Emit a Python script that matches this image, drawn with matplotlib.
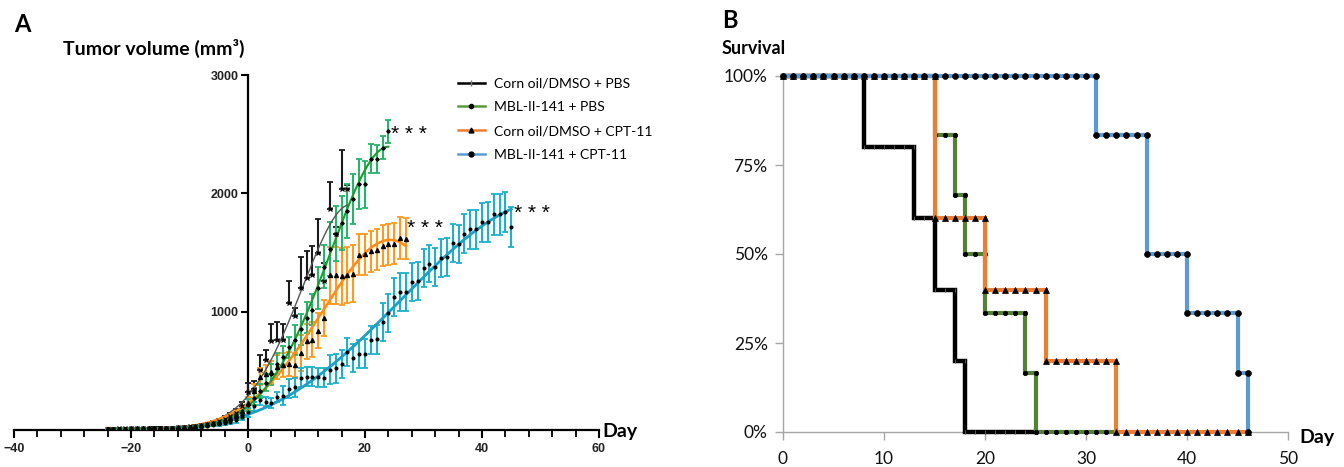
import numpy as np
import matplotlib
matplotlib.use('Agg')
import matplotlib.pyplot as plt
from matplotlib.lines import Line2D
from matplotlib.ticker import MultipleLocator

# ---------------- Panel A data (tumor volume, mm^3) ----------------
ctrl_pbs_days = list(range(-24, 18))
ctrl_pbs_mean = [12, 12, 13, 13, 14, 14, 15, 16, 17, 18, 19, 21, 23, 26, 30, 35, 42, 50,
                 60, 75, 95, 120, 145, 200,
                 320, 350, 510, 593, 748, 763, 763, 1074, 960, 1200, 1285, 1313, 1497,
                 1257, 1864, 1660, 2034, 2040]
ctrl_pbs_err = [4, 4, 4, 4, 4, 4, 5, 5, 5, 5, 5, 6, 6, 7, 8, 9, 10, 12,
                14, 16, 20, 25, 30, 40,
                80, 60, 128, 85, 150, 147, 133, 184, 70, 263, 226, 240, 282,
                155, 232, 56, 333, 30]

mbl_pbs_days = list(range(-24, 25))
mbl_pbs_mean = [10, 10, 11, 11, 12, 12, 13, 13, 14, 15, 16, 17, 19, 21, 24, 28, 33, 40,
                48, 58, 70, 85, 105, 130,
                210, 270, 330, 400, 470, 560, 620, 700, 760, 850, 950, 1017, 1200,
                1380, 1530, 1660, 1750, 1850, 1950, 2076, 2076, 2294, 2288, 2387, 2523]
mbl_pbs_err = [3, 3, 3, 3, 3, 3, 4, 4, 4, 4, 5, 5, 5, 6, 6, 7, 8, 9,
               10, 12, 14, 18, 22, 28,
               50, 60, 60, 70, 90, 90, 90, 90, 130, 130, 130, 130, 180,
               180, 230, 230, 230, 230, 210, 210, 200, 120, 120, 100, 100]

ctrl_cpt_days = list(range(-24, 28))
ctrl_cpt_mean = [11, 11, 12, 12, 13, 13, 14, 15, 16, 17, 18, 20, 22, 25, 28, 33, 40, 48,
                 58, 70, 85, 105, 130, 160,
                 230, 330, 452, 470, 490, 530, 551, 555, 551, 650, 748, 763, 839,
                 946, 1308, 1308, 1299, 1310, 1322, 1483, 1485, 1510, 1525, 1559, 1570,
                 1576, 1624, 1616]
ctrl_cpt_err = [3, 3, 3, 3, 3, 3, 4, 4, 4, 4, 5, 5, 5, 6, 6, 7, 8, 9,
                10, 12, 14, 18, 22, 28,
                50, 60, 70, 80, 90, 100, 100, 100, 100, 150, 150, 150, 150,
                150, 240, 240, 240, 240, 240, 175, 175, 175, 175, 175, 175,
                175, 175, 175]

mbl_cpt_days = list(range(-24, 46))
mbl_cpt_mean = [10, 10, 10, 11, 11, 12, 12, 13, 13, 14, 15, 16, 17, 19, 21, 24, 28, 33,
                40, 48, 58, 70, 85, 110,
                150, 200, 250, 240, 230, 280, 290, 350, 360, 440, 450, 450, 445,
                440, 510, 520, 560, 660, 610, 640, 645, 760, 765, 910, 990, 1125,
                1165, 1165, 1250, 1257, 1370, 1407, 1380, 1455, 1460, 1582, 1573, 1658,
                1695, 1695, 1757, 1757, 1822, 1822, 1845, 1714]
mbl_cpt_err = [3, 3, 3, 3, 3, 3, 4, 4, 4, 4, 5, 5, 5, 6, 6, 7, 8, 9,
               10, 12, 14, 18, 22, 28,
               40, 40, 40, 40, 40, 40, 80, 80, 80, 80, 80, 80, 80,
               80, 120, 120, 120, 120, 120, 120, 120, 120, 120, 160, 160, 160,
               160, 160, 160, 160, 160, 160, 160, 160, 160, 160, 160, 165,
               165, 165, 165, 170, 170, 170, 170, 170]

group_labels = ["Corn oil/DMSO + PBS", "MBL-II-141 + PBS",
                "Corn oil/DMSO + CPT-11", "MBL-II-141 + CPT-11"]
sig_text = "* * *"

# ---------------- Panel B data (survival, %) ----------------
surv_ctrl_pbs_events = [8, 13, 15, 17, 18]
surv_ctrl_pbs_levels = [80, 60, 40, 20, 0]
surv_ctrl_pbs_end = 25
surv_mbl_pbs_events = [15, 17, 18, 20, 24, 25]
surv_mbl_pbs_levels = [83.33, 66.67, 50, 33.33, 16.67, 0]
surv_mbl_pbs_end = 33
surv_ctrl_cpt_events = [15, 20, 26, 33]
surv_ctrl_cpt_levels = [60, 40, 20, 0]
surv_ctrl_cpt_end = 46
surv_mbl_cpt_events = [31, 36, 40, 45, 46]
surv_mbl_cpt_levels = [83.33, 50, 33.33, 16.67, 0]
surv_mbl_cpt_end = 46
surv_yticks = [0, 25, 50, 75, 100]
surv_ylabels = ["0%", "25%", "50%", "75%", "100%"]
surv_xticks = [0, 10, 20, 30, 40, 50]

# ---------------- Figure ----------------
W, H = 1344, 467
fig = plt.figure(figsize=(W / 100, H / 100), dpi=100)
fig.patch.set_facecolor('white')

TXT = ['Lato', 'DejaVu Sans']
NUM = ['Liberation Sans', 'DejaVu Sans']

def fx(px):
    return px / W

def fy(py):
    return 1 - py / H

# ---- Panel A ----
ax = fig.add_axes([fx(14), fy(430), fx(599 - 14), (430 - 75) / H])
ax.set_xlim(-40, 60)
ax.set_ylim(0, 3000)
for s in ['top', 'right']:
    ax.spines[s].set_visible(False)
ax.spines['left'].set_position(('data', 0))
ax.spines['left'].set_linewidth(1.6)
ax.spines['bottom'].set_linewidth(1.6)
ax.set_xticks([-40, -20, 0, 20, 40, 60])
ax.xaxis.set_minor_locator(MultipleLocator(4))
ax.set_yticks([1000, 2000, 3000])
ax.tick_params(axis='x', which='major', length=6, width=1.5, direction='out', pad=3)
ax.tick_params(axis='x', which='minor', length=5, width=1.3, direction='out')
ax.tick_params(axis='y', which='major', length=5, width=1.5, direction='out', pad=2)
for lab in ax.get_xticklabels() + ax.get_yticklabels():
    lab.set_fontfamily(NUM)
    lab.set_fontweight('bold')
    lab.set_fontsize(9)
    lab.set_color('#222222')

series = [
    (ctrl_pbs_days, ctrl_pbs_mean, ctrl_pbs_err, '#1a1a1a', '#555555', 'x', 3.0, 1.0, True),
    (ctrl_cpt_days, ctrl_cpt_mean, ctrl_cpt_err, '#ff9a1f', '#ff8c16', '^', 3.0, 1.8, False),
    (mbl_cpt_days, mbl_cpt_mean, mbl_cpt_err, '#1fb0cc', '#1e9fc4', 'o', 2.0, 2.0, False),
    (mbl_pbs_days, mbl_pbs_mean, mbl_pbs_err, '#26b36b', '#1f9a2e', 'D', 1.8, 1.5, False),
]
for days, mean, err, ecol, fcol, mk, ms, flw, upper_only in series:
    d = np.array(days, dtype=float)
    m = np.array(mean, dtype=float)
    e = np.array(err, dtype=float)
    yerr = [np.zeros_like(e), e] if upper_only else e
    ax.errorbar(d, m, yerr=yerr, fmt='none', ecolor=ecol, elinewidth=1.5,
                capsize=2.5, capthick=1.3, zorder=3)
    ax.plot(d, m, linestyle='none', marker=mk, ms=ms, color='black',
            mew=0.9, zorder=5)
    # smooth fitted growth curve (least-squares fit in sqrt space)
    coef = np.polyfit(d, np.sqrt(m), 4)
    xs = np.linspace(d.min(), d.max(), 300)
    ys = np.polyval(coef, xs) ** 2
    ax.plot(xs, ys, color=fcol, lw=flw, zorder=4)

ax.text(24.4, 2500, sig_text, fontsize=15, family=NUM, va='center', ha='left')
ax.text(27.2, 1700, sig_text, fontsize=15, family=NUM, va='center', ha='left')
ax.text(45.4, 1830, sig_text, fontsize=15, family=NUM, va='center', ha='left')

fig.text(fx(602), fy(432), "Day", fontsize=14, fontweight='bold', family=TXT,
         ha='left', va='center')
fig.text(fx(63), fy(48), "Tumor volume (mm³)", fontsize=14,
         fontweight='bold', family=TXT, ha='left', va='center')
fig.text(fx(14), fy(24), "A", fontsize=17, fontweight='bold', family=TXT,
         ha='left', va='center')

leg_handles = [
    Line2D([], [], color='black', lw=1.8, marker='|', ms=4, mec='#777777'),
    Line2D([], [], color='#5b9b3c', lw=1.8, marker='o', ms=3, mfc='black', mec='black'),
    Line2D([], [], color='#ed7d31', lw=1.8, marker='^', ms=3.5, mfc='black', mec='black'),
    Line2D([], [], color='#5b9bd5', lw=1.8, marker='o', ms=3.5, mfc='black', mec='black'),
]
fig.legend(leg_handles, group_labels, loc='upper left',
           bbox_to_anchor=(fx(452), fy(72)), frameon=False,
           prop={'family': TXT, 'size': 10}, handlelength=2.0,
           handletextpad=0.6, labelspacing=0.85, borderaxespad=0)

# ---- Panel B ----
bx = fig.add_axes([fx(783), fy(432), fx(1288 - 783), (432 - 76) / H])
bx.set_xlim(0, 50)
bx.set_ylim(0, 100)
for s in ['top', 'right']:
    bx.spines[s].set_visible(False)
for s in ['left', 'bottom']:
    bx.spines[s].set_color('#a6a6a6')
    bx.spines[s].set_linewidth(1.0)
bx.set_xticks(surv_xticks)
bx.set_yticks(surv_yticks)
bx.set_yticklabels(surv_ylabels)
bx.tick_params(axis='both', length=6, width=1.0, color='#a6a6a6', direction='out')
bx.tick_params(axis='y', pad=5)
bx.tick_params(axis='x', pad=8)
for lab in bx.get_xticklabels() + bx.get_yticklabels():
    lab.set_fontfamily(TXT)
    lab.set_fontsize(12.5)
    lab.set_color('#111111')


def km_points(events, levels, end):
    xs, ys = [], []
    level = 100.0
    ev = dict(zip(events, levels))
    for day in range(0, end + 1):
        xs.append(day)
        ys.append(level)
        if day in ev:
            level = ev[day]
            xs.append(day)
            ys.append(level)
    return xs, ys

km = [
    (surv_ctrl_pbs_events, surv_ctrl_pbs_levels, surv_ctrl_pbs_end, 'black', '|', 3.5, 0.7, 3.2),
    (surv_mbl_pbs_events, surv_mbl_pbs_levels, surv_mbl_pbs_end, '#548235', 'o', 3.2, 0.5, 3.0),
    (surv_ctrl_cpt_events, surv_ctrl_cpt_levels, surv_ctrl_cpt_end, '#ed7d31', '^', 4.2, 0.5, 3.0),
    (surv_mbl_cpt_events, surv_mbl_cpt_levels, surv_mbl_cpt_end, '#5b9bd5', 'o', 4.2, 0.5, 3.0),
]
for i, (ev, lv, end, col, mk, ms, mew, lw) in enumerate(km):
    xs, ys = km_points(ev, lv, end)
    bx.plot(xs, ys, color=col, lw=lw, solid_joinstyle='miter', zorder=3 + i,
            clip_on=False)
    mcol = '#555555' if mk == '|' else 'black'
    bx.plot(xs, ys, linestyle='none', marker=mk, ms=ms, color=mcol, mew=mew,
            zorder=3 + i, clip_on=False)

fig.text(fx(1299), fy(437), "Day", fontsize=14, fontweight='bold', family=TXT,
         ha='left', va='center')
fig.text(fx(722), fy(48), "Survival", fontsize=13, fontweight='bold', family=TXT,
         ha='left', va='center')
fig.text(fx(722), fy(20), "B", fontsize=17, fontweight='bold', family=TXT,
         ha='left', va='center')

fig.savefig('out.png', dpi=100, facecolor='white')
